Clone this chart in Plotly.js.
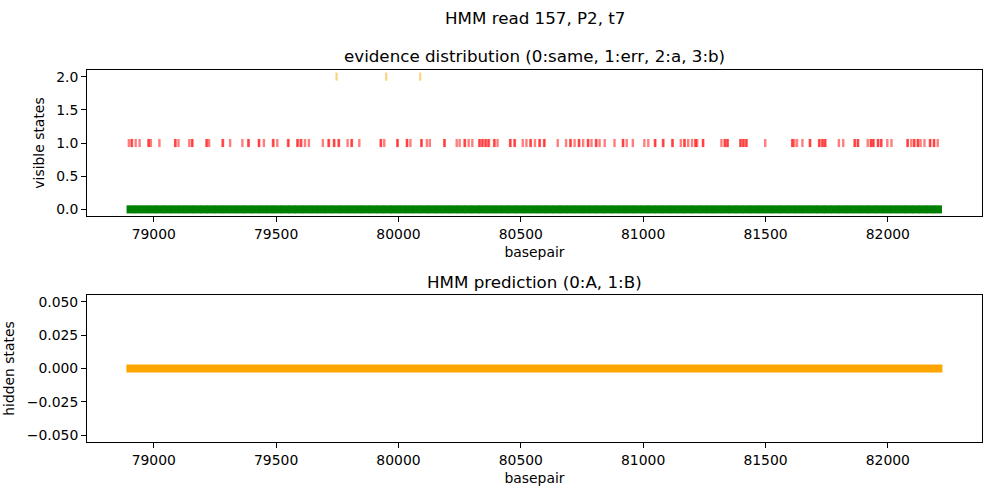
<!DOCTYPE html>
<html>
<head>
<meta charset="utf-8">
<script src="https://cdn.plot.ly/plotly-3.0.1.min.js"></script>
<style>html,body{margin:0;padding:0;background:#fff;}#chart{width:1000px;height:500px;}</style>
</head>
<body>
<div id="chart"></div>
<script>
// evidence 0 (same) positions
const samePos = [78905, 78935, 78965, 78995, 79025, 79055, 79085, 79115, 79145, 79175, 79205, 79235, 79265, 79295, 79325, 79355, 79385, 79415, 79445, 79475, 79505, 79535, 79565, 79595, 79625, 79655, 79685, 79715, 79745, 79775, 79805, 79835, 79865, 79895, 79925, 79955, 79985, 80015, 80045, 80075, 80105, 80135, 80165, 80195, 80225, 80255, 80285, 80315, 80345, 80375, 80405, 80435, 80465, 80495, 80525, 80555, 80585, 80615, 80645, 80675, 80705, 80735, 80765, 80795, 80825, 80855, 80885, 80915, 80945, 80975, 81005, 81035, 81065, 81095, 81125, 81155, 81185, 81215, 81245, 81275, 81305, 81335, 81365, 81395, 81425, 81455, 81485, 81515, 81545, 81575, 81605, 81635, 81665, 81695, 81725, 81755, 81785, 81815, 81845, 81875, 81905, 81935, 81965, 81995, 82025, 82055, 82085, 82115, 82145, 82175, 82205];
// evidence 1 (err) positions
const errPos = [78898, 78909, 78911, 78926, 78942, 78978, 78980, 78988, 79023, 79087, 79089, 79101, 79145, 79156, 79158, 79215, 79217, 79226, 79281, 79283, 79312, 79362, 79386, 79388, 79429, 79431, 79450, 79487, 79489, 79505, 79548, 79551, 79586, 79589, 79600, 79603, 79618, 79634, 79691, 79714, 79716, 79736, 79738, 79755, 79757, 79792, 79808, 79810, 79840, 79927, 79929, 79942, 79995, 79997, 80034, 80036, 80049, 80093, 80095, 80116, 80128, 80187, 80189, 80238, 80250, 80270, 80272, 80287, 80302, 80330, 80333, 80342, 80345, 80355, 80358, 80367, 80370, 80391, 80393, 80405, 80456, 80458, 80474, 80476, 80508, 80523, 80539, 80541, 80558, 80576, 80578, 80595, 80597, 80651, 80685, 80702, 80704, 80720, 80737, 80739, 80755, 80774, 80776, 80789, 80807, 80809, 80822, 80843, 80883, 80917, 80919, 80933, 80958, 81005, 81021, 81048, 81050, 81081, 81083, 81119, 81121, 81154, 81168, 81170, 81184, 81200, 81213, 81215, 81221, 81244, 81246, 81320, 81333, 81335, 81344, 81346, 81397, 81399, 81409, 81411, 81421, 81423, 81499, 81609, 81611, 81618, 81629, 81651, 81681, 81683, 81719, 81721, 81732, 81734, 81743, 81745, 81800, 81818, 81864, 81866, 81877, 81879, 81918, 81930, 81932, 81940, 81942, 81959, 81961, 81972, 81974, 81998, 82015, 82080, 82082, 82096, 82107, 82109, 82122, 82124, 82134, 82150, 82172, 82174, 82188, 82190, 82204];
// evidence 2 (a) positions
const aPos = [79747, 79950, 80089];
// hidden state prediction
const hiddenX = [78888, 82223];
const hiddenY = [0, 0];

const sameY = samePos.map(() => 0);
const errY = errPos.map(() => 1);
const aY = aPos.map(() => 2);

const font = {family: 'DejaVu Sans, sans-serif', size: 13.9, color: '#000'};
const mk = (col, w) => ({symbol: 'line-ns', size: 5.8, color: col, line: {color: col, width: w}});

const traces = [
  {x: samePos, y: sameY, type: 'scatter', mode: 'markers', marker: mk('rgb(0,128,0)', 8), xaxis: 'x', yaxis: 'y'},
  {x: errPos, y: errY, type: 'scatter', mode: 'markers', marker: mk('rgba(255,0,0,0.5)', 2.4), xaxis: 'x', yaxis: 'y'},
  {x: aPos, y: aY, type: 'scatter', mode: 'markers', marker: mk('rgba(255,165,0,0.5)', 2.2), xaxis: 'x', yaxis: 'y'},
  {x: hiddenX, y: hiddenY, type: 'scatter', mode: 'lines', line: {color: '#FFA500', width: 8}, xaxis: 'x2', yaxis: 'y2'}
];

const axCommon = {
  showline: true, mirror: true, linecolor: '#000', linewidth: 1,
  ticks: 'outside', ticklen: 5, tickwidth: 1, tickcolor: '#000',
  showgrid: false, zeroline: false, tickfont: font
};

const layout = {
  width: 1000, height: 500,
  paper_bgcolor: '#fff', plot_bgcolor: '#fff',
  showlegend: false,
  font: font,
  margin: {l: 87, r: 18, t: 70, b: 58},
  xaxis: Object.assign({}, axCommon, {domain: [0, 1], range: [78727, 82385], tick0: 79000, dtick: 500, tickformat: 'd', anchor: 'y',
    title: {text: 'basepair', font: font, standoff: 6}}),
  yaxis: Object.assign({}, axCommon, {domain: [0.6075, 1], range: [-0.1, 2.1], tick0: 0, dtick: 0.5, tickformat: '.1f', anchor: 'x',
    title: {text: 'visible states', font: font, standoff: 8}}),
  xaxis2: Object.assign({}, axCommon, {domain: [0, 1], range: [78727, 82385], tick0: 79000, dtick: 500, tickformat: 'd', anchor: 'y2',
    title: {text: 'basepair', font: font, standoff: 6}}),
  yaxis2: Object.assign({}, axCommon, {domain: [0, 0.3952], range: [-0.055, 0.055], tick0: 0, dtick: 0.025, tickformat: '.3f', anchor: 'x2',
    title: {text: 'hidden states', font: font, standoff: 8}}),
  annotations: [
    {text: 'HMM read 157, P2, t7', xref: 'paper', yref: 'paper', x: 0.5, y: 1, yshift: 52, xanchor: 'center', yanchor: 'middle', showarrow: false, font: {family: font.family, size: 16.7, color: '#000'}},
    {text: 'evidence distribution (0:same, 1:err, 2:a, 3:b)', xref: 'paper', yref: 'paper', x: 0.5, y: 1, yshift: 14, xanchor: 'center', yanchor: 'middle', showarrow: false, font: {family: font.family, size: 16.7, color: '#000'}},
    {text: 'HMM prediction (0:A, 1:B)', xref: 'paper', yref: 'paper', x: 0.5, y: 0.3952, yshift: 13, xanchor: 'center', yanchor: 'middle', showarrow: false, font: {family: font.family, size: 16.7, color: '#000'}}
  ]
};

Plotly.newPlot('chart', traces, layout, {staticPlot: true, displayModeBar: false});
</script>
</body>
</html>
